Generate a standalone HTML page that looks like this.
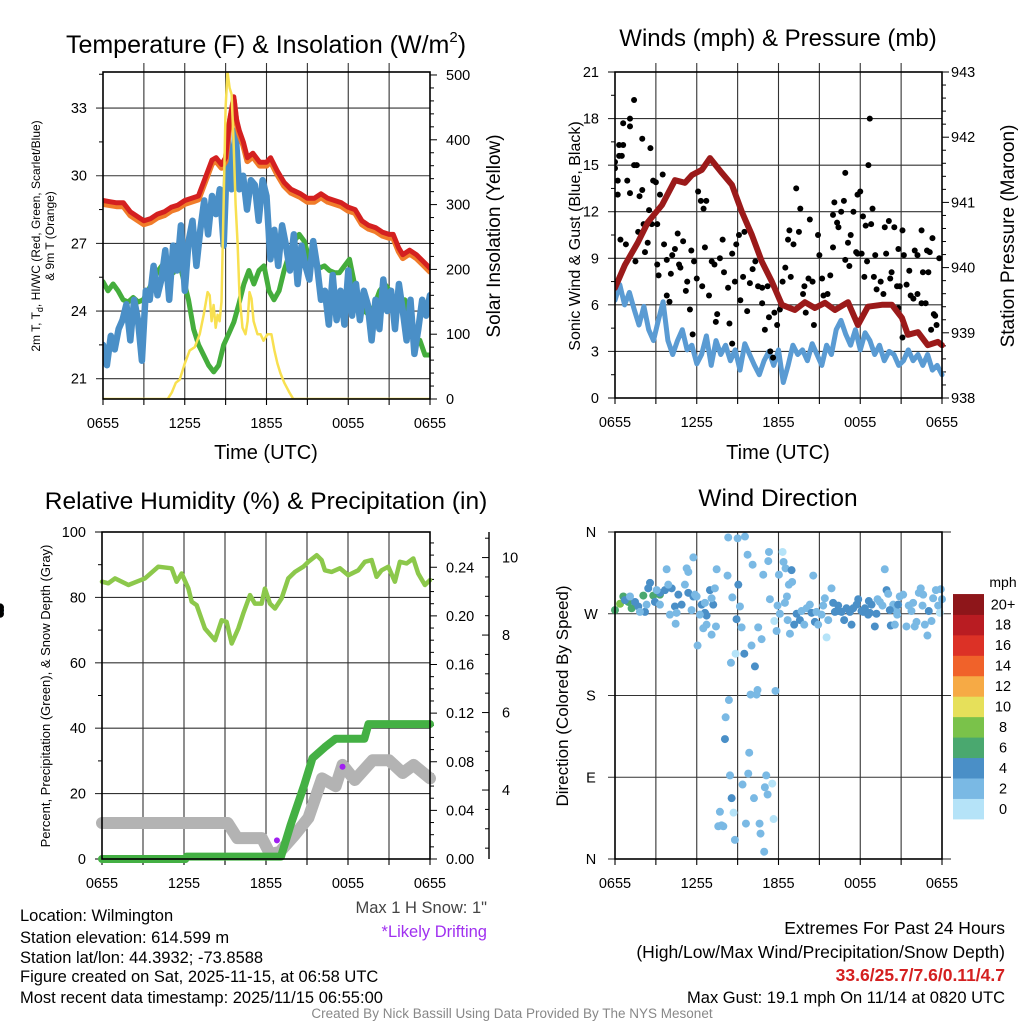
<!DOCTYPE html>
<html><head><meta charset="utf-8"><style>
html,body{margin:0;padding:0;background:#fff;}
svg{display:block;font-family:"Liberation Sans",Arial,sans-serif;}
</style></head><body>
<svg id="fig" width="1024" height="1024" viewBox="0 0 1024 1024" xmlns="http://www.w3.org/2000/svg">
<rect x="0" y="0" width="1024" height="1024" fill="#fff"/>
<text x="266" y="53" font-size="25" text-anchor="middle">Temperature (F) &amp; Insolation (W/m<tspan font-size="15" dy="-11">2</tspan><tspan dy="11">)</tspan></text>
<text x="778" y="46" font-size="24" text-anchor="middle">Winds (mph) &amp; Pressure (mb)</text>
<text x="266" y="509" font-size="24.5" text-anchor="middle">Relative Humidity (%) &amp; Precipitation (in)</text>
<text x="778" y="506" font-size="24.5" text-anchor="middle">Wind Direction</text>
<text x="266" y="459" font-size="20" text-anchor="middle">Time (UTC)</text>
<text x="778" y="459" font-size="20" text-anchor="middle">Time (UTC)</text>
<g transform="translate(40,236) rotate(-90)">
<text x="0" y="0" font-size="12" text-anchor="middle">2m T, T<tspan font-size="9" dy="3">d</tspan><tspan dy="-3">, HI/WC (Red, Green, Scarlet/Blue)</tspan></text>
<text x="0" y="14" font-size="12" text-anchor="middle">&amp; 9m T (Orange)</text>
</g>
<text transform="translate(500,236) rotate(-90)" font-size="19" text-anchor="middle">Solar Insolation (Yellow)</text>
<text transform="translate(580,236) rotate(-90)" font-size="16" text-anchor="middle">Sonic Wind &amp; Gust (Blue, Black)</text>
<text transform="translate(1014,236) rotate(-90)" font-size="19" text-anchor="middle">Station Pressure (Maroon)</text>
<text transform="translate(50,696) rotate(-90)" font-size="13" text-anchor="middle">Percent, Precipitation (Green), &amp; Snow Depth (Gray)</text>
<text transform="translate(568,696) rotate(-90)" font-size="17" text-anchor="middle">Direction (Colored By Speed)</text>
<g font-size="16.5" fill="#000">
<text x="20" y="921">Location: Wilmington</text>
<text x="20" y="943">Station elevation: 614.599 m</text>
<text x="20" y="963">Station lat/lon: 44.3932; -73.8588</text>
<text x="20" y="982">Figure created on Sat, 2025-11-15, at 06:58 UTC</text>
<text x="20" y="1003">Most recent data timestamp: 2025/11/15 06:55:00</text>
<text x="487" y="913" text-anchor="end" fill="#444">Max 1 H Snow: 1"</text>
<text x="487" y="937" text-anchor="end" fill="#a030f0">*Likely Drifting</text>
</g>
<g font-size="17.5" fill="#000">
<text x="1005" y="934" text-anchor="end">Extremes For Past 24 Hours</text>
<text x="1005" y="958" text-anchor="end">(High/Low/Max Wind/Precipitation/Snow Depth)</text>
<text x="1005" y="981" text-anchor="end" fill="#d42020" font-weight="bold">33.6/25.7/7.6/0.11/4.7</text>
<text x="1005" y="1003" text-anchor="end" font-size="16.5">Max Gust: 19.1 mph On 11/14 at 0820 UTC</text>
</g>
<text x="512" y="1018" font-size="13.5" fill="#888" text-anchor="middle">Created By Nick Bassill Using Data Provided By The NYS Mesonet</text>
<text x="1003" y="587" font-size="14" text-anchor="middle">mph</text>
</svg>
<script>
// ---------- DATA ----------
const timeTickLabels = ["0655","1255","1855","0055","0655"];
const redTimes = [0,0.5,1,1.5,2,2.5,3,3.5,4,4.5,5,5.5,6,6.5,7,7.5,8,8.3,8.7,9.0,9.3,9.6,9.8,10.0,10.3,10.6,11.0,11.5,12.0,12.3,12.8,13.3,13.8,14.5,15,15.5,16,16.5,17,17.5,18,18.5,19,19.5,20,20.5,21,21.3,21.7,22,22.5,23,23.5,24];
const redTemps = [28.9,28.85,28.8,28.8,28.4,28.2,28.0,28.1,28.3,28.4,28.6,28.7,28.9,29.0,29.1,29.9,30.7,30.8,30.5,30.8,32.5,33.5,32.5,32.0,31.5,30.8,31.0,30.6,30.6,30.8,30.2,29.7,29.4,29.2,29.0,29.0,29.2,29.0,28.9,28.8,28.6,28.5,28.0,27.8,27.7,27.5,27.4,27.4,26.8,26.5,26.7,26.5,26.2,25.9];
const blueTemps = [22.5,21.6,22.9,22.3,23.2,23.6,24.3,22.7,24.5,23.6,21.8,24.9,24.5,26.0,24.7,25.4,26.7,24.5,26.9,25.8,27.8,24.9,27.1,28.0,26.0,27.6,28.9,27.4,29.1,28.3,29.4,26.9,31.6,29.4,32.0,29.4,30.0,28.5,29.8,29.6,28.0,29.8,29.1,26.3,27.6,26.0,27.8,26.9,25.8,27.4,25.2,26.9,26.0,25.4,27.1,26.0,24.5,24.9,23.4,25.6,23.6,24.9,23.4,25.8,23.8,25.2,23.6,24.9,24.3,22.7,24.5,23.2,25.4,24.0,24.9,23.2,25.2,24.0,22.7,24.5,22.1,23.2,24.5,23.8,24.7];
const greenTemps = [25.3,24.9,25.2,24.9,24.5,24.4,24.6,24.4,24.5,24.9,25.4,25.8,26.1,25.6,25.7,26.3,25.4,24.5,23.2,22.5,22.05,21.6,21.3,21.6,22.5,23.0,23.5,24.3,25.2,25.8,25.2,25.8,26.0,24.9,24.5,24.9,25.8,26.5,27.1,27.4,27.1,26.3,26.3,25.9,26.0,25.8,25.7,25.7,26.0,26.3,25.2,24.5,24.0,23.8,24.3,24.9,25.2,24.9,24.5,24.3,24.5,23.6,22.7,22.7,22.05,22.05];
const solarTimes = [0,4.75,5.05,5.34,5.63,6.0,6.36,6.73,7.1,7.39,7.68,7.83,7.97,8.12,8.27,8.41,8.56,8.7,8.85,9.0,9.14,9.29,9.44,9.58,9.73,9.88,10.02,10.24,10.46,10.61,10.75,10.9,11.05,11.19,11.34,11.56,11.78,12.07,12.36,12.58,12.8,13.02,13.31,13.68,13.97,24];
const solarVals = [0,0,10,25,30,55,75,80,100,130,165,160,120,145,110,130,120,150,300,450,505,480,470,400,300,240,160,110,100,120,165,155,120,110,100,100,90,100,100,75,55,40,25,10,0,0];
const windVals = [6.3,7.3,6.0,6.8,5.7,4.7,5.9,4.4,3.7,5.0,6.2,3.7,2.8,3.7,4.4,3.1,3.4,2.2,2.8,4.0,2.1,3.7,2.8,3.4,2.4,3.1,1.8,3.5,2.8,2.1,1.5,2.4,3.0,2.1,3.1,1.0,2.1,3.4,2.8,3.1,2.4,3.5,2.8,2.1,3.4,2.8,4.4,5.0,4.1,3.4,4.4,3.1,4.2,3.7,2.8,3.4,2.4,3.0,2.8,2.1,2.4,3.1,2.4,2.8,2.1,2.8,1.8,2.1,1.5];
const pressTimes = [0,0.73,1.69,2.42,3.45,4.4,5.14,5.65,6.38,6.97,7.85,8.58,9.32,10.05,10.78,11.52,12.25,13.2,13.94,14.67,15.41,16.14,17.1,17.83,18.56,19.59,20.32,21.06,21.5,22.23,22.96,23.7,24];
const pressVals = [939.69,940.04,940.39,940.7,940.96,941.34,941.3,941.42,941.5,941.68,941.45,941.27,940.85,940.5,940.09,939.78,939.43,939.35,939.47,939.38,939.46,939.35,939.47,939.12,939.4,939.43,939.43,939.23,938.97,939.01,938.81,938.86,938.81];
const gustTimes = [0,0,0.2,0.2,0.4,0.3,0.6,0.3,0.5,0.6,1.1,1.1,1.4,0.8,0.9,1.1,1.4,1.6,1.5,1.7,1.8,2.0,2.0,2.1,2.2,2.4,2.5,2.6,2.7,2.8,3.0,3.1,3.1,3.2,3.3,3.5,3.6,3.8,3.8,4.0,4.1,4.2,4.4,4.6,4.7,4.8,5.0,5.2,5.3,5.5,5.6,5.7,5.8,6.0,6.1,6.3,6.4,6.5,6.6,6.7,6.9,7.1,7.3,7.4,7.5,7.7,7.9,8.0,8.3,8.4,8.6,8.6,8.8,8.9,9.1,9.2,9.4,9.5,9.7,9.9,10.1,10.3,10.5,10.8,10.8,11.0,11.2,11.3,11.4,11.6,11.7,11.9,12.1,12.3,12.5,12.7,12.8,12.9,13.1,13.3,13.5,13.6,13.8,13.9,14.0,14.2,14.3,14.5,14.6,14.9,15.0,15.2,15.3,15.6,15.8,16.0,16.0,16.1,16.3,16.4,16.6,16.8,16.9,16.9,17.1,17.2,17.3,17.5,17.7,17.8,17.8,18.0,18.1,18.2,18.3,18.4,18.5,18.6,18.7,18.8,18.9,19.0,19.1,19.2,19.5,19.7,19.8,19.9,20.1,20.2,20.3,20.5,20.7,20.8,20.8,20.9,21.1,21.1,21.2,21.4,21.6,21.7,21.9,22.0,22.2,22.2,22.5,22.5,22.6,22.8,22.9,23.0,23.1,23.2,23.3,23.4,23.5,23.6,23.8];
const gustVals = [14.8,15.2,14.0,13.1,10.2,16.3,16.3,15.6,15.6,17.7,18.0,17.5,19.2,9.9,14.0,13.2,15.0,15.0,8.8,10.7,13.0,13.4,16.7,11.2,9.4,10.0,12.1,16.1,11.2,14.0,13.9,11.2,8.6,7.9,13.1,14.4,9.9,6.6,8.9,6.2,8.0,9.2,9.6,10.6,8.6,8.4,10.1,6.9,7.5,5.7,9.5,4.1,8.8,7.7,13.3,12.7,7.2,12.2,9.7,12.7,6.6,8.8,8.6,4.9,5.4,9.0,10.2,8.1,7.1,4.8,9.3,3.5,7.5,9.9,10.5,6.3,7.8,10.7,5.6,7.4,8.3,8.8,7.2,7.1,6.1,4.4,7.2,5.2,3.0,2.6,5.5,4.7,5.7,7.5,8.4,10.2,10.8,7.8,9.9,13.5,10.7,12.2,6.7,7.2,5.5,7.7,11.5,7.5,4.7,10.5,9.2,7.7,6.6,6.7,7.9,9.7,11.8,12.6,11.3,11.0,12.0,12.7,14.5,8.9,10.0,8.5,10.5,12.0,9.4,13.1,9.3,13.3,9.3,11.7,7.8,11.1,8.8,15.0,18.0,11.2,12.2,7.8,9.2,7.0,7.5,6.7,11.0,9.3,11.4,7.7,8.1,11.0,7.2,5.8,9.6,7.2,3.9,10.8,9.2,7.3,8.2,6.6,6.4,9.5,9.2,6.7,10.8,6.1,8.1,6.1,9.5,8.1,9.4,4.4,10.3,5.4,5.3,4.7,9.0];
const rhTimes = [0,0.46,0.95,1.93,2.54,3.14,4.12,5.1,5.46,5.83,6.32,6.56,6.93,7.53,8.27,8.75,9.12,9.49,9.97,10.34,10.83,11.19,11.68,11.92,12.29,12.66,13.14,13.63,14.12,14.73,15.1,15.71,16.07,16.31,16.8,17.41,18.02,18.75,19.24,19.73,20.09,20.46,20.95,21.43,21.8,22.29,22.78,23.14,23.63,24];
const rhVals = [84.8,84.3,85.8,83.8,84.8,85.8,89.4,88.9,84.8,87.3,82.7,78.7,77.6,70.5,66.9,73.0,72.5,65.9,70.5,75.1,80.7,78.1,78.1,82.7,78.1,76.6,79.7,85.8,87.8,89.4,90.9,92.9,91.4,88.3,87.8,88.9,86.8,88.3,90.9,91.4,86.3,88.3,89.4,84.8,90.9,90.4,91.9,87.3,83.8,85.3];
const precipTimes = [0,6.1,6.2,13.1,13.8,14.8,15.4,16.3,17.1,19.2,19.5,24];
const precipVals = [0,0,0.002,0.002,0.028,0.061,0.083,0.092,0.099,0.099,0.111,0.111];
const snowTimes = [0,9.2,9.9,11.7,12.3,13.0,14.1,15.1,16.1,17.1,17.6,18.5,19.8,21.0,22.0,22.8,24];
const snowVals = [3.15,3.15,2.76,2.76,2.35,2.4,2.84,3.28,4.3,4.1,4.65,4.26,4.77,4.77,4.44,4.65,4.3];
const driftTimes = [12.8,17.6];
const driftVals = [2.7,4.6];
const dirTickLabels = ["N","E","S","W","N"];
const dirTimes = [0,0.37,0.61,0.98,1.22,2.08,2.81,3.3,0.73,1.47,1.71,2.2,2.44,2.57,2.93,3.3,3.67,4.16,4.4,4.65,4.89,5.38,5.75,6.36,6.6,6.97,7.21,6.72,1.1,1.83,2.32,3.06,3.3,3.79,3.91,4.03,4.45,4.52,5.13,5.26,5.38,5.62,5.75,5.87,5.99,6.06,6.23,6.48,6.6,6.72,7.09,7.09,7.33,7.41,7.46,7.58,7.7,7.82,7.95,8.07,8.12,8.26,8.31,8.36,8.44,8.51,8.56,8.61,8.7,8.8,8.85,8.92,9.0,9.05,9.17,9.29,9.36,9.49,9.54,9.61,9.73,9.78,9.85,9.95,10.02,10.1,10.2,10.27,10.39,10.46,10.51,10.61,10.68,10.76,10.88,10.95,11.0,11.1,11.2,11.25,11.3,11.37,11.54,11.64,11.69,11.78,11.86,11.93,12.03,12.1,12.3,12.37,12.47,12.52,12.62,12.67,12.76,12.84,12.96,13.0,13.15,13.33,13.57,13.69,13.89,14.06,14.3,14.43,14.67,14.79,14.91,15.16,15.28,15.4,15.53,15.65,15.89,16.01,16.14,16.38,16.63,16.82,16.99,17.24,17.48,17.73,17.85,18.09,18.34,18.63,18.83,19.07,19.27,19.19,19.44,19.63,19.8,19.93,20.05,20.24,20.42,20.54,20.66,20.71,20.9,21.15,21.39,21.56,21.76,21.88,22.0,22.13,22.3,22.44,22.57,22.62,22.74,22.93,23.03,23.23,23.35,23.55,23.72,23.84,23.91,24.0,14.55,16.38,17.36,18.22,18.7,20.17,20.78,18.58];
const dirVals = [274,281,289,283,276,290,290,291,285,283,278,272,298,304,283,293,296,298,278,291,280,293,289,280,271,296,280,268,289,272,280,296,280,319,302,269,259,271,302,320,316,274,332,291,289,235,269,254,282,258,247,287,298,256,319,36,52,37,36,132,156,312,354,175,92,216,67,288,51,21,226,264,353,302,278,255,82,226,355,39,335,94,117,181,235,324,67,212,181,186,255,39,28,242,313,8,79,92,71,328,338,286,83,44,262,185,251,279,313,270,338,327,282,320,289,263,302,248,318,305,258,270,263,273,258,276,280,271,261,272,258,269,279,287,244,263,298,282,272,279,272,263,276,272,276,280,286,273,276,284,280,256,286,270,283,279,319,296,292,257,280,258,273,269,289,291,256,279,273,282,256,261,293,298,279,291,258,246,273,262,287,296,279,271,297,286,312,273,258,272,271,274,280,269,273,277,274,270];
const dirSpeeds = [7,8,7,7,7,7,7,7,5,5,5,5,5,5,5,5,5,5,5,5,5,5,5,5,5,5,5,5,3,3,3,3,3,3,3,3,3,3,3,3,3,3,3,3,3,3,3,3,3,3,3,3,3,3,3,3,3,3,3,5,3,3,3,3,3,3,5,3,1,3,1,5,3,5,3,3,3,5,3,3,3,3,3,3,3,3,3,5,3,3,3,3,3,3,3,3,3,3,3,3,3,3,1,1,1,3,3,3,3,3,1,3,3,3,3,3,3,3,5,3,5,5,5,3,3,3,3,5,5,3,3,3,3,3,1,3,3,5,5,5,5,5,5,5,5,5,5,5,5,5,5,5,3,5,3,3,3,5,3,5,3,3,3,3,3,3,3,3,3,3,3,3,3,3,3,3,3,3,5,3,3,3,3,1,3,3,3,5,5,5,5,5,5,5,5];
const cbLabels = ["0","2","4","6","8","10","12","14","16","18","20+"];
const cbColors = ["#b5e3f8","#7ab9e4","#4a8fc7","#4aa86f","#7ac24a","#e6e05a","#f6aa45","#f0622a","#dc3126","#b91c22","#8e161a"];

// ---------- HELPERS ----------
const NS = "http://www.w3.org/2000/svg";
const svg = document.getElementById("fig");
const defs = document.createElementNS(NS, "defs");
svg.appendChild(defs);
function mk(tag, attrs, parent) {
  const e = document.createElementNS(NS, tag);
  for (const k in attrs) e.setAttribute(k, attrs[k]);
  (parent || svg).appendChild(e);
  return e;
}
function lin(d0, d1, r0, r1) { return v => r0 + (v - d0) / (d1 - d0) * (r1 - r0); }
function pathFrom(xs, ys, sx, sy) {
  return xs.map((t, i) => (i ? "L" : "M") + sx(t).toFixed(1) + "," + sy(ys[i]).toFixed(1)).join("");
}
function uniformTimes(n) { const a = []; for (let i = 0; i < n; i++) a.push(i * 24 / (n - 1)); return a; }
function tickLabel(x, y, str, anchor, size) {
  const t = mk("text", {x: x, y: y, "font-size": size || 14, "text-anchor": anchor});
  t.textContent = str;
  
  
  return t;
}
function gline(x1, y1, x2, y2, w, c) {
  const l = mk("line", {x1: x1, y1: y1, x2: x2, y2: y2, stroke: c || "#222", "stroke-width": w || 1});
  
  
  return l;
}
function frame(x0, y0, x1, y1, name) {
  const r = mk("rect", {x: x0, y: y0, width: x1 - x0, height: y1 - y0, fill: "none", stroke: "#000", "stroke-width": 1.6});
  
  
}
function clip(id, x, y, w, h) {
  const cp = mk("clipPath", {id: id}, defs);
  mk("rect", {x: x, y: y, width: w, height: h}, cp);
}
function timeAxis(x0, x1, y0, y1, extendTop) {
  const sx = lin(0, 24, x0, x1);
  for (let h = 0; h <= 24; h += 3) {
    const x = sx(h);
    if (h > 0 && h < 24) gline(x, y0 - extendTop, x, y1, 1.1, "#333");
    gline(x, y1, x, y1 + 6, 1.1, "#000");
  }
  timeTickLabels.forEach((s, i) => tickLabel(sx(i * 6), y1 + 29, s, "middle", 14.5));
  return sx;
}
function seriesPath(d, color, w, name, parent) {
  const p = mk("path", {d: d, fill: "none", stroke: color, "stroke-width": w, "stroke-linejoin": "round", "stroke-linecap": "round"}, parent);
  
  
  return p;
}

// ---------- PANEL 1 ----------
(function () {
  const x0 = 103, x1 = 430, y0 = 72, y1 = 399;
  const sx = timeAxis(x0, x1, y0, y1, 9);
  const sy = lin(20.1, 34.6, y1, y0);
  const ss = lin(0, 504.6, y1, y0);
  for (let t = 21; t <= 33; t += 3) { gline(x0 - 7, sy(t), x1, sy(t), 1.1, "#333"); tickLabel(x0 - 16, sy(t) + 5, String(t), "end", 14.5); }
  for (let t = 22.5; t <= 34.5; t += 3) gline(x0 - 4, sy(t), x0, sy(t), 1, "#000");
  for (let v = 0; v <= 500; v += 20) gline(x1, ss(v), x1 + (v % 100 === 0 ? 7 : 4), ss(v), 1, "#000");
  for (let v = 0; v <= 500; v += 100) tickLabel(x1 + 16, ss(v) + 5, String(v), "start", 14.5);
  clip("c1", x0, y0, x1 - x0, y1 - y0);
  const g = mk("g", {"clip-path": "url(#c1)"});
  
  
  seriesPath(pathFrom(uniformTimes(greenTemps.length), greenTemps, sx, sy), "#44ad3c", 5, "dewpoint-line", g);
  seriesPath(pathFrom(uniformTimes(blueTemps.length), blueTemps, sx, sy), "#4a8fc7", 6.5, "wind-chill-line", g);
  seriesPath(pathFrom(redTimes, redTemps.map(v => v - 0.15), sx, sy), "#f07c2a", 6, "nine-meter-temp-line", g);
  seriesPath(pathFrom(redTimes, redTemps, sx, sy), "#d42020", 5, "two-meter-temp-line", g);
  seriesPath(pathFrom(solarTimes, solarVals, sx, ss), "#f8e050", 2.5, "solar-insolation-line", g);
  frame(x0, y0, x1, y1, "temperature-plot-frame");
})();

// ---------- PANEL 2 ----------
(function () {
  const x0 = 615, x1 = 942, y0 = 72, y1 = 398;
  const sx = timeAxis(x0, x1, y0, y1, 9);
  const sy = lin(0, 21, y1, y0);
  const sp = lin(938, 943, y1, y0);
  for (let v = 0; v <= 21; v += 3) { if (v > 0 && v < 21) gline(x0 - 7, sy(v), x1, sy(v), 1.1, "#333"); else gline(x0 - 7, sy(v), x0, sy(v), 1, "#000"); tickLabel(x0 - 16, sy(v) + 5, String(v), "end", 14.5); }
  for (let v = 1.5; v < 21; v += 3) gline(x0 - 4, sy(v), x0, sy(v), 1, "#000");
  for (let p = 938; p <= 943.001; p += 0.2) { const major = Math.abs(p - Math.round(p)) < 0.01; gline(x1, sp(p), x1 + (major ? 7 : 4), sp(p), 1, "#000"); }
  for (let p = 938; p <= 943; p++) tickLabel(x1 + 9, sp(p) + 5, String(p), "start", 14.5);
  clip("c2", x0, y0, x1 - x0 + 4, y1 - y0);
  const g = mk("g", {"clip-path": "url(#c2)"});
  
  
  seriesPath(pathFrom(uniformTimes(windVals.length), windVals, sx, sy), "#5a9bd3", 5, "sonic-wind-line", g);
  gustVals.forEach((v, i) => {
    const c = mk("circle", {cx: sx(gustTimes[i]), cy: sy(v), r: 3, fill: "#000"}, g);
    
    
  });
  seriesPath(pathFrom(pressTimes, pressVals, sx, sp), "#9b1a1a", 6, "pressure-line", g);
  frame(x0, y0, x1, y1, "winds-plot-frame");
})();

// ---------- PANEL 3 ----------
(function () {
  const x0 = 102, x1 = 430, y0 = 532, y1 = 859;
  const sx = timeAxis(x0, x1, y0, y1, 0);
  const sy = lin(0, 100, y1, y0);
  const sr = lin(0, 0.269, y1, y0);
  const sn = lin(2.22, 10.66, y1, y0);
  for (let v = 0; v <= 100; v += 20) { if (v > 0 && v < 100) gline(x0 - 7, sy(v), x1, sy(v), 1.1, "#333"); else gline(x0 - 7, sy(v), x0, sy(v), 1, "#000"); tickLabel(x0 - 16, sy(v) + 5, String(v), "end", 14.5); }
  for (let v = 10; v < 100; v += 20) gline(x0 - 4, sy(v), x0, sy(v), 1, "#000");
  for (let k = 0; k <= 26; k++) { const v = k / 100; gline(x1, sr(v), x1 + (k % 4 === 0 ? 7 : 4), sr(v), 1, "#000"); }
  for (let k = 0; k <= 24; k += 4) tickLabel(x1 + 16, sr(k / 100) + 5, (k / 100).toFixed(2), "start", 14.5);
  const ax = 489;
  gline(ax, y0, ax, y1, 1.4, "#000");
  for (let s = 2.5; s <= 10.5; s += 0.5) gline(ax, sn(s), ax - (s % 2 === 0 ? 7 : 4), sn(s), 1, "#000");
  for (let s = 4; s <= 10; s += 2) tickLabel(ax + 13, sn(s) + 5, String(s), "start", 14.5);
  clip("c3", x0 - 8, y0, x1 - x0 + 16, y1 - y0 + 8);
  const g = mk("g", {"clip-path": "url(#c3)"});
  
  
  seriesPath(pathFrom(snowTimes, snowVals, sx, sn), "#b3b3b3", 12, "snow-depth-line", g);
  driftTimes.forEach((t, i) => {
    const c = mk("circle", {cx: sx(t), cy: sn(driftVals[i]), r: 3, fill: "#a020f0"}, g);
    
    
  });
  seriesPath(pathFrom(precipTimes, precipVals, sx, sr), "#44b044", 8, "precipitation-line", g);
  seriesPath(pathFrom(rhTimes, rhVals, sx, sy), "#8cc84b", 4.5, "relative-humidity-line", g);
  frame(x0, y0, x1, y1, "humidity-plot-frame");
})();

// ---------- PANEL 4 ----------
(function () {
  const x0 = 615, x1 = 942, y0 = 532, y1 = 859;
  const sx = timeAxis(x0, x1, y0, y1, 0);
  const sy = lin(0, 360, y1, y0);
  dirTickLabels.forEach((s, i) => {
    const v = i * 90;
    gline(x0 - 7, sy(v), x1 + 9, sy(v), 1.1, (v > 0 && v < 360) ? "#333" : "#222");
    tickLabel(591, sy(v) + 5, s, "middle", 14.5);
  });
  function colorFor(s) { return cbColors[Math.min(10, Math.floor(s / 2))]; }
  dirVals.forEach((d, i) => {
    const c = mk("circle", {cx: sx(dirTimes[i]), cy: sy(d), r: 4, fill: colorFor(dirSpeeds[i])});
    
    
  });
  frame(x0, y0, x1, y1, "direction-plot-frame");
  const by1 = 819, bh = 20.45;
  cbColors.forEach((col, i) => {
    const r = mk("rect", {x: 953, y: by1 - (i + 1) * bh, width: 31, height: bh + 0.4, fill: col});
    
    
    tickLabel(1003, by1 - (i + 0.5) * bh + 5, cbLabels[i], "middle", 14.5);
  });
})();
</script>
</body></html>
